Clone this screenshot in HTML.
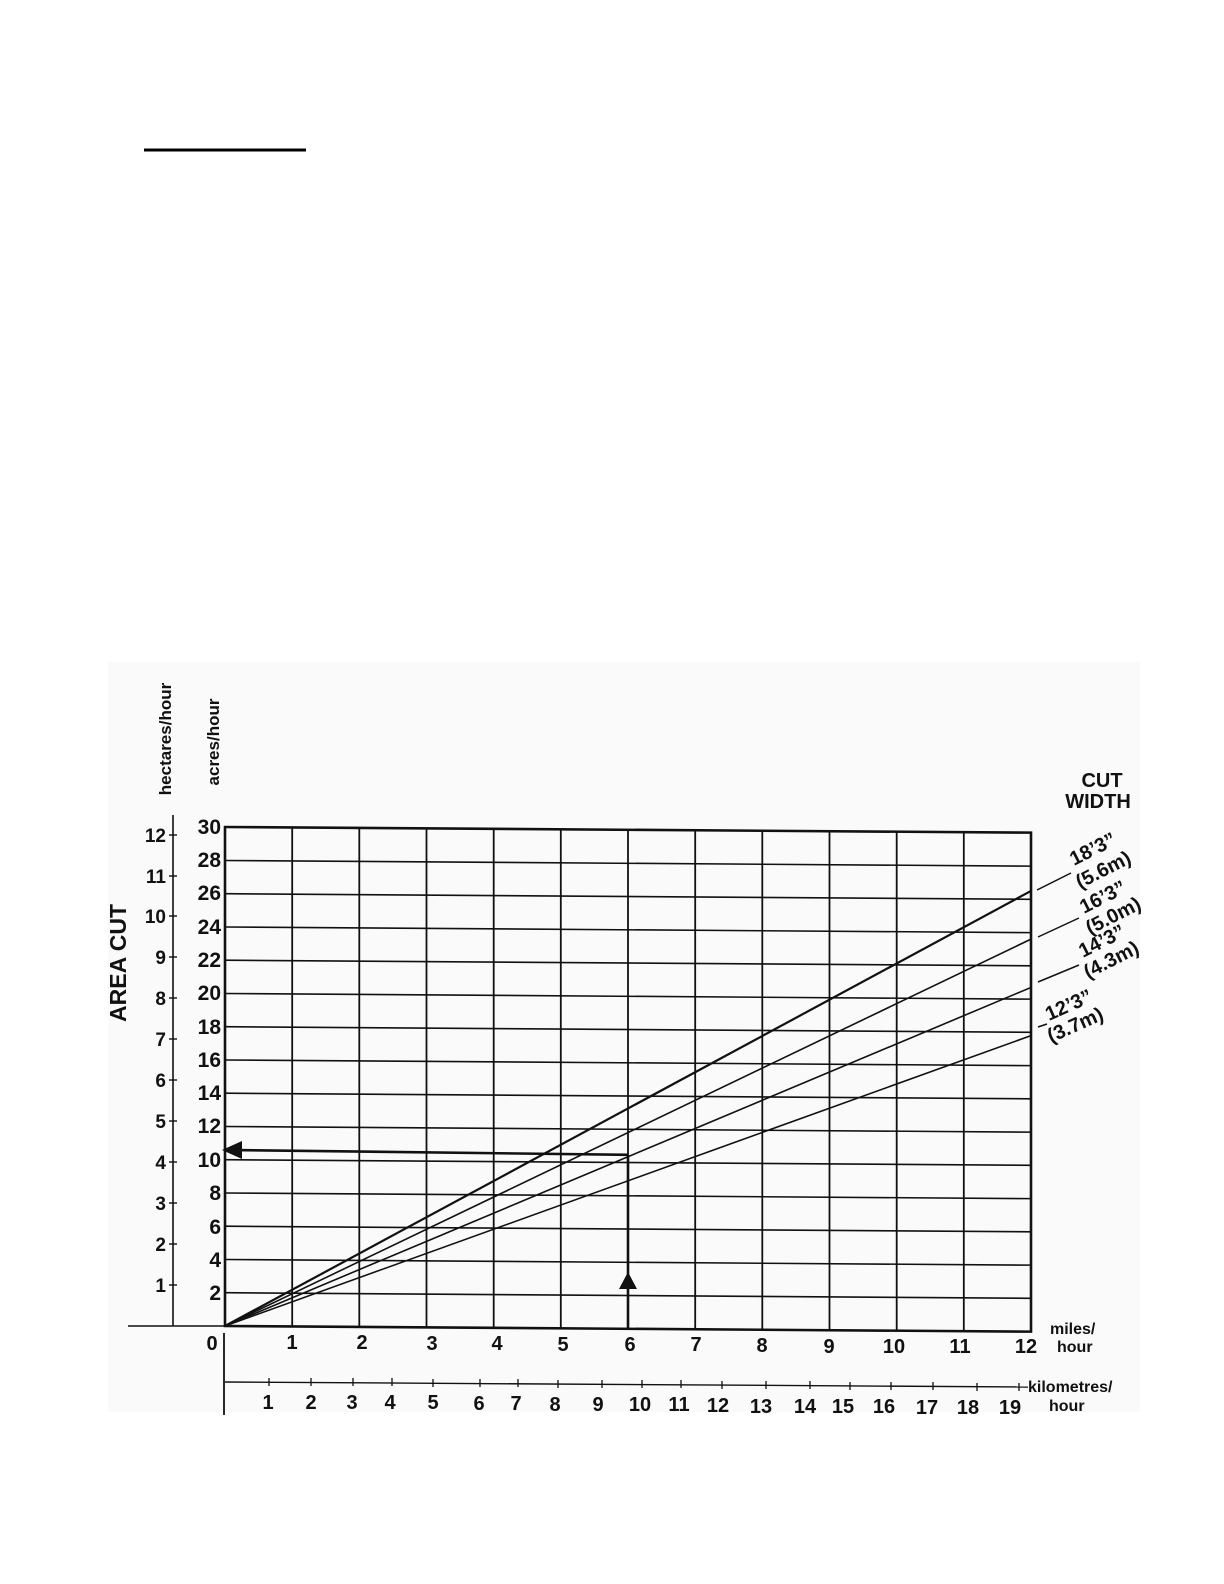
<!DOCTYPE html>
<html><head><meta charset="utf-8"><style>
html,body{margin:0;padding:0;background:#fff}
svg{display:block}
text{font-family:"Liberation Sans",sans-serif;font-weight:bold;fill:#111}
</style></head><body>
<svg width="1224" height="1584" viewBox="0 0 1224 1584" xmlns="http://www.w3.org/2000/svg">
<rect x="0" y="0" width="1224" height="1584" fill="#fff"/>
<rect x="108" y="662" width="1032" height="750" fill="#fafafa"/>
<line x1="144" y1="150" x2="306" y2="150" stroke="#000" stroke-width="3"/>

<g transform="translate(225,1326) skewY(0.4)" stroke="#111" fill="none">
  <g stroke-width="1.6">
    <line x1="0" y1="-33.3" x2="806" y2="-33.3"/>
    <line x1="0" y1="-66.5" x2="806" y2="-66.5"/>
    <line x1="0" y1="-99.8" x2="806" y2="-99.8"/>
    <line x1="0" y1="-133" x2="806" y2="-133"/>
    <line x1="0" y1="-166.3" x2="806" y2="-166.3"/>
    <line x1="0" y1="-199.5" x2="806" y2="-199.5"/>
    <line x1="0" y1="-232.8" x2="806" y2="-232.8"/>
    <line x1="0" y1="-266" x2="806" y2="-266"/>
    <line x1="0" y1="-299.3" x2="806" y2="-299.3"/>
    <line x1="0" y1="-332.5" x2="806" y2="-332.5"/>
    <line x1="0" y1="-365.8" x2="806" y2="-365.8"/>
    <line x1="0" y1="-399" x2="806" y2="-399"/>
    <line x1="0" y1="-432.3" x2="806" y2="-432.3"/>
    <line x1="0" y1="-465.5" x2="806" y2="-465.5"/>
  </g>
  <g stroke-width="1.8">
    <line x1="67.2" y1="0" x2="67.2" y2="-499"/>
    <line x1="134.3" y1="0" x2="134.3" y2="-499"/>
    <line x1="201.5" y1="0" x2="201.5" y2="-499"/>
    <line x1="268.7" y1="0" x2="268.7" y2="-499"/>
    <line x1="335.8" y1="0" x2="335.8" y2="-499"/>
    <line x1="403" y1="0" x2="403" y2="-499"/>
    <line x1="470.2" y1="0" x2="470.2" y2="-499"/>
    <line x1="537.3" y1="0" x2="537.3" y2="-499"/>
    <line x1="604.5" y1="0" x2="604.5" y2="-499"/>
    <line x1="671.7" y1="0" x2="671.7" y2="-499"/>
    <line x1="738.8" y1="0" x2="738.8" y2="-499"/>
  </g>
  <rect x="0" y="-499" width="806" height="499" stroke-width="2.6"/>
  <line x1="0" y1="0" x2="806" y2="-440.7" stroke-width="2.2"/>
  <line x1="0" y1="0" x2="806" y2="-392.5" stroke-width="1.6"/>
  <line x1="0" y1="0" x2="806" y2="-344.2" stroke-width="1.6"/>
  <line x1="0" y1="0" x2="806" y2="-296" stroke-width="1.6"/>
  <line x1="403" y1="-174" x2="10" y2="-176" stroke-width="2.6"/>
  <line x1="403" y1="0" x2="403" y2="-174" stroke-width="2.6"/>
</g>
<polygon points="222,1150 242,1141 242,1159" fill="#111"/>
<polygon points="628,1272 619,1289 637,1289" fill="#111"/>

<line x1="128" y1="1326" x2="225" y2="1326" stroke="#111" stroke-width="1.6"/>
<line x1="173" y1="815" x2="173" y2="1326" stroke="#111" stroke-width="1.6"/>
<g stroke="#111" stroke-width="1.4">
  <line x1="169" y1="1285" x2="177" y2="1285"/>
  <line x1="169" y1="1244" x2="177" y2="1244"/>
  <line x1="169" y1="1203" x2="177" y2="1203"/>
  <line x1="169" y1="1162" x2="177" y2="1162"/>
  <line x1="169" y1="1121" x2="177" y2="1121"/>
  <line x1="169" y1="1080" x2="177" y2="1080"/>
  <line x1="169" y1="1039" x2="177" y2="1039"/>
  <line x1="169" y1="998" x2="177" y2="998"/>
  <line x1="169" y1="957" x2="177" y2="957"/>
  <line x1="169" y1="916" x2="177" y2="916"/>
  <line x1="169" y1="876" x2="177" y2="876"/>
  <line x1="169" y1="835" x2="177" y2="835"/>
</g>
<g font-size="19" text-anchor="end">
  <text x="166" y="1292">1</text><text x="166" y="1251">2</text><text x="166" y="1210">3</text>
  <text x="166" y="1169">4</text><text x="166" y="1128">5</text><text x="166" y="1087">6</text>
  <text x="166" y="1046">7</text><text x="166" y="1005">8</text><text x="166" y="964">9</text>
  <text x="166" y="923">10</text><text x="166" y="883">11</text><text x="166" y="842">12</text>
</g>
<g font-size="21" text-anchor="end">
  <text x="221" y="1300">2</text><text x="221" y="1267">4</text><text x="221" y="1234">6</text>
  <text x="221" y="1200">8</text><text x="221" y="1167">10</text><text x="221" y="1133">12</text>
  <text x="221" y="1100">14</text><text x="221" y="1067">16</text><text x="221" y="1034">18</text>
  <text x="221" y="1000">20</text><text x="221" y="967">22</text><text x="221" y="934">24</text>
  <text x="221" y="900">26</text><text x="221" y="867">28</text><text x="221" y="834">30</text>
</g>
<text font-size="23" transform="translate(126,963) rotate(-90)" text-anchor="middle">AREA CUT</text>
<text font-size="17" transform="translate(171,739) rotate(-90)" text-anchor="middle">hectares/hour</text>
<text font-size="17" transform="translate(219,742) rotate(-90)" text-anchor="middle">acres/hour</text>

<g font-size="20" text-anchor="middle">
  <text x="212" y="1350">0</text>
  <text x="292" y="1349">1</text><text x="362" y="1349">2</text><text x="432" y="1350">3</text>
  <text x="497" y="1350">4</text><text x="563" y="1351">5</text><text x="630" y="1351">6</text>
  <text x="696" y="1351">7</text><text x="762" y="1352">8</text><text x="829" y="1353">9</text>
  <text x="894" y="1353">10</text><text x="960" y="1353">11</text><text x="1026" y="1353">12</text>
</g>
<text x="1050" y="1334" font-size="16">miles/</text>
<text x="1057" y="1352" font-size="16">hour</text>

<line x1="224" y1="1333" x2="224" y2="1415" stroke="#111" stroke-width="1.8"/>
<line x1="225" y1="1382" x2="1028" y2="1387" stroke="#111" stroke-width="1.4"/>
<g stroke="#111" stroke-width="1.3">
  <line x1="269" y1="1378" x2="269" y2="1386"/><line x1="311" y1="1378" x2="311" y2="1386"/>
  <line x1="353" y1="1378" x2="353" y2="1386"/><line x1="392" y1="1378" x2="392" y2="1386"/>
  <line x1="433" y1="1379" x2="433" y2="1387"/><line x1="480" y1="1379" x2="480" y2="1387"/>
  <line x1="518" y1="1379" x2="518" y2="1387"/><line x1="558" y1="1380" x2="558" y2="1388"/>
  <line x1="602" y1="1380" x2="602" y2="1388"/><line x1="642" y1="1380" x2="642" y2="1388"/>
  <line x1="681" y1="1380" x2="681" y2="1388"/><line x1="722" y1="1381" x2="722" y2="1389"/>
  <line x1="766" y1="1381" x2="766" y2="1389"/><line x1="810" y1="1381" x2="810" y2="1389"/>
  <line x1="850" y1="1382" x2="850" y2="1390"/><line x1="891" y1="1382" x2="891" y2="1390"/>
  <line x1="933" y1="1382" x2="933" y2="1390"/><line x1="977" y1="1383" x2="977" y2="1391"/>
  <line x1="1019" y1="1383" x2="1019" y2="1391"/>
</g>
<g font-size="20" text-anchor="middle">
  <text x="268" y="1409">1</text><text x="311" y="1409">2</text><text x="352" y="1409">3</text>
  <text x="390" y="1409">4</text><text x="433" y="1409">5</text><text x="479" y="1410">6</text>
  <text x="516" y="1410">7</text><text x="555" y="1411">8</text><text x="598" y="1411">9</text>
  <text x="640" y="1411">10</text><text x="679" y="1411">11</text><text x="718" y="1412">12</text>
  <text x="761" y="1413">13</text><text x="805" y="1413">14</text><text x="843" y="1413">15</text>
  <text x="884" y="1413">16</text><text x="927" y="1414">17</text><text x="968" y="1414">18</text>
  <text x="1010" y="1414">19</text>
</g>
<text x="1028" y="1392" font-size="16">kilometres/</text>
<text x="1049" y="1411" font-size="16">hour</text>

<text x="1102" y="787" font-size="20" text-anchor="middle">CUT</text>
<text x="1098" y="808" font-size="20" text-anchor="middle">WIDTH</text>
<g stroke="#111" stroke-width="1.5">
  <line x1="1037" y1="890" x2="1071" y2="873"/>
  <line x1="1038" y1="937" x2="1079" y2="918"/>
  <line x1="1038" y1="982" x2="1079" y2="965"/>
  <line x1="1038" y1="1027" x2="1047" y2="1024"/>
</g>
<g font-size="20">
  <text transform="translate(1074,866) rotate(-27)">18’3”</text>
  <text transform="translate(1080,889) rotate(-27)">(5.6m)</text>
  <text transform="translate(1084,914) rotate(-27)">16’3”</text>
  <text transform="translate(1090,935) rotate(-27)">(5.0m)</text>
  <text transform="translate(1083,958) rotate(-27)">14’3”</text>
  <text transform="translate(1088,979) rotate(-27)">(4.3m)</text>
  <text transform="translate(1049,1021) rotate(-24)">12’3”</text>
  <text transform="translate(1051,1043) rotate(-24)">(3.7m)</text>
</g>
</svg>
</body></html>
